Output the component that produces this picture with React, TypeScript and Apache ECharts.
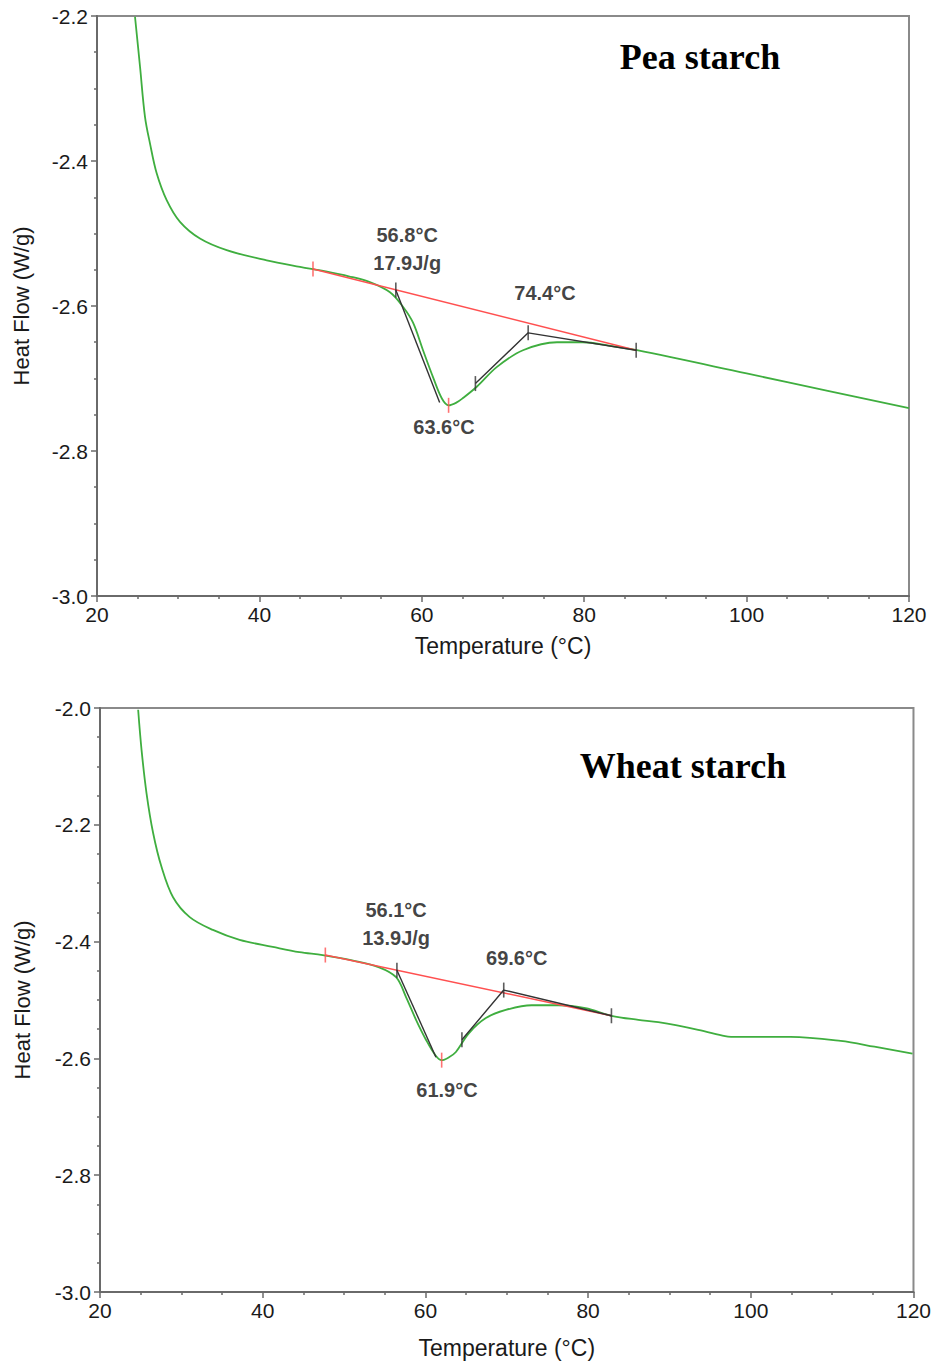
import React, { useEffect, useRef } from "react";
import * as echarts from "echarts";

// ---------- data ----------
const xTicks = [20, 40, 60, 80, 100, 120];
const peaYRange = [-3.0, -2.2];
const wheatYRange = [-3.0, -2.0];

const peaCurve: [number, number][] = [
  [24.68, -2.201], [25.3, -2.27], [25.91, -2.339], [26.53, -2.376], [27.35, -2.417],
  [28.58, -2.454], [30.22, -2.484], [32.68, -2.507], [35.97, -2.523], [40.9, -2.537],
  [45.0, -2.546], [48.0, -2.552], [51.0, -2.559], [53.6, -2.567], [56.08, -2.581],
  [57.68, -2.601], [58.92, -2.623], [60.15, -2.661], [61.38, -2.698], [62.49, -2.728],
  [63.3, -2.737], [64.3, -2.733], [65.07, -2.727], [66.8, -2.711], [69.26, -2.684],
  [72.46, -2.661], [76.65, -2.65], [79.85, -2.65], [83.18, -2.655], [86.5, -2.661],
  [100, -2.693], [110, -2.717], [120, -2.741],
];
const peaBaseline: [number, number][] = [[46.6, -2.549], [86.4, -2.661]];
const peaTangent1: [number, number][] = [[56.8, -2.578], [62.2, -2.733]];
const peaTangent2: [number, number][] = [[66.6, -2.707], [73.1, -2.637], [86.4, -2.661]];
const peaRedTicks: [number, number][] = [[46.6, -2.549], [63.3, -2.737]];
const peaBlackTicks: [number, number][] = [[56.8, -2.578], [66.6, -2.707], [73.1, -2.637], [86.4, -2.661]];
const peaNotes = [
  { name: "56.8°C\n17.9J/g", value: [58.2, -2.522] },
  { name: "74.4°C", value: [75.17, -2.582] },
  { name: "63.6°C", value: [62.73, -2.767] },
];

const wheatCurve: [number, number][] = [
  [24.69, -2.003], [25.11, -2.072], [25.72, -2.146], [26.53, -2.214], [27.56, -2.272],
  [28.98, -2.324], [31.03, -2.358], [33.88, -2.38], [37.16, -2.397], [41.24, -2.409],
  [44.51, -2.418], [47.37, -2.423], [51.0, -2.432], [54.31, -2.444], [56.4, -2.461],
  [57.62, -2.495], [58.85, -2.534], [60.07, -2.568], [61.2, -2.594], [62.0, -2.603],
  [62.9, -2.598], [63.75, -2.589], [65.34, -2.557], [67.43, -2.531], [69.88, -2.517],
  [73.06, -2.509], [76.37, -2.509], [79.68, -2.514], [82.87, -2.527], [86.18, -2.534],
  [88.63, -2.538], [93.53, -2.551], [96.84, -2.562], [97.57, -2.563], [104.9, -2.563],
  [111.05, -2.57], [115.2, -2.58], [119.88, -2.592],
];
const wheatBaseline: [number, number][] = [[47.7, -2.423], [82.87, -2.527]];
const wheatTangent1: [number, number][] = [[56.5, -2.449], [61.3, -2.598]];
const wheatTangent2: [number, number][] = [[64.49, -2.568], [69.63, -2.483], [82.87, -2.527]];
const wheatRedTicks: [number, number][] = [[47.7, -2.423], [62.0, -2.603]];
const wheatBlackTicks: [number, number][] = [[56.5, -2.449], [64.49, -2.568], [69.63, -2.483], [82.87, -2.527]];
const wheatNotes = [
  { name: "56.1°C\n13.9J/g", value: [56.4, -2.37] },
  { name: "69.6°C", value: [71.23, -2.428] },
  { name: "61.9°C", value: [62.65, -2.654] },
];

const titles = ["Pea starch", "Wheat starch"];
const xName = "Temperature (°C)";
const yName = "Heat Flow (W/g)";

// ---------- styles ----------
const GREEN = "#3fae3f";
const RED = "#ff5050";
const BLACK = "#333333";
const AXIS = "#6a6a6a";
const FONT = "Arial, 'Liberation Sans', sans-serif";

function xAxis(i: number, nameGap: number) {
  return {
    type: "value",
    gridIndex: i,
    min: xTicks[0],
    max: xTicks[xTicks.length - 1],
    interval: 20,
    name: xName,
    nameLocation: "middle",
    nameGap,
    nameTextStyle: { fontFamily: FONT, fontSize: 23, color: "#1a1a1a" },
    axisLine: { show: true, lineStyle: { color: AXIS, width: 2 } },
    axisTick: { show: true, length: 6, lineStyle: { color: AXIS, width: 1.5 } },
    minorTick: { show: true, splitNumber: 4, length: 3, lineStyle: { color: AXIS, width: 1.5 } },
    splitLine: { show: false },
    axisLabel: { fontFamily: FONT, fontSize: 21, color: "#1a1a1a", margin: 8 },
  };
}

function yAxis(i: number, range: number[], nameGap: number) {
  return {
    type: "value",
    gridIndex: i,
    min: range[0],
    max: range[1],
    interval: 0.2,
    name: yName,
    nameLocation: "middle",
    nameGap,
    nameTextStyle: { fontFamily: FONT, fontSize: 22, color: "#1a1a1a" },
    axisLine: { show: true, onZero: false, lineStyle: { color: AXIS, width: 2 } },
    axisTick: { show: true, length: 6, lineStyle: { color: AXIS, width: 1.5 } },
    minorTick: { show: true, splitNumber: 4, length: 3, lineStyle: { color: AXIS, width: 1.5 } },
    splitLine: { show: false },
    axisLabel: {
      fontFamily: FONT, fontSize: 21, color: "#1a1a1a", margin: 9,
      formatter: (v: number) => v.toFixed(1),
    },
  };
}

function seriesFor(
  i: number,
  curve: [number, number][],
  baseline: [number, number][],
  t1: [number, number][],
  t2: [number, number][],
  redTicks: [number, number][],
  blackTicks: [number, number][],
  notes: { name: string; value: number[] }[]
) {
  const common = { xAxisIndex: i, yAxisIndex: i, silent: true };
  return [
    {
      ...common, type: "line", data: curve, smooth: 0.35,
      showSymbol: false, symbol: "none", lineStyle: { color: GREEN, width: 1.8 }, z: 2,
    },
    {
      ...common, type: "line", data: baseline, symbol: "none",
      lineStyle: { color: RED, width: 1.4 }, z: 3,
    },
    {
      ...common, type: "line", data: t1, symbol: "none",
      lineStyle: { color: BLACK, width: 1.4 }, z: 4,
    },
    {
      ...common, type: "line", data: t2, symbol: "none",
      lineStyle: { color: BLACK, width: 1.4 }, z: 4,
    },
    {
      ...common, type: "scatter", data: redTicks, symbol: "rect", symbolSize: [1.6, 15],
      itemStyle: { color: RED }, z: 5,
    },
    {
      ...common, type: "scatter", data: blackTicks, symbol: "rect", symbolSize: [1.6, 15],
      itemStyle: { color: BLACK }, z: 5,
    },
    {
      ...common, type: "scatter", data: notes, symbolSize: 1,
      itemStyle: { color: "rgba(0,0,0,0)" }, z: 6,
      label: {
        show: true, position: "inside", formatter: (p: any) => p.name,
        fontFamily: FONT, fontSize: 20, fontWeight: "bold", color: "#111",
        lineHeight: 28, align: "center", verticalAlign: "middle",
      },
    },
  ];
}

export default function App() {
  const ref = useRef<HTMLDivElement>(null);
  useEffect(() => {
    if (!ref.current) return;
    const chart = echarts.init(ref.current, null, { renderer: "svg" });
    chart.setOption({
      animation: false,
      backgroundColor: "#ffffff",
      grid: [
        { left: 97, top: 16, width: 812, height: 580, show: true, borderColor: "#8a8a8a", borderWidth: 2 },
        { left: 100, top: 708, width: 816, height: 584, show: true, borderColor: "#8a8a8a", borderWidth: 2 },
      ],
      xAxis: [xAxis(0, 38), xAxis(1, 44)],
      yAxis: [yAxis(0, peaYRange, 65), yAxis(1, wheatYRange, 67)],
      graphic: [
        {
          type: "text", x: 700, y: 57,
          style: {
            text: titles[0], font: "bold 36px 'Times New Roman', 'Liberation Serif', serif",
            fill: "#000", align: "center", verticalAlign: "middle",
          },
        },
        {
          type: "text", x: 683, y: 766,
          style: {
            text: titles[1], font: "bold 36px 'Times New Roman', 'Liberation Serif', serif",
            fill: "#000", align: "center", verticalAlign: "middle",
          },
        },
      ],
      series: [
        ...seriesFor(0, peaCurve, peaBaseline, peaTangent1, peaTangent2, peaRedTicks, peaBlackTicks, peaNotes),
        ...seriesFor(1, wheatCurve, wheatBaseline, wheatTangent1, wheatTangent2, wheatRedTicks, wheatBlackTicks, wheatNotes),
      ],
    });
    return () => chart.dispose();
  }, []);
  return (
    <div
      ref={ref}
      style={{ position: "absolute", left: 0, top: 0, width: 934, height: 1362, background: "#fff" }}
    />
  );
}
